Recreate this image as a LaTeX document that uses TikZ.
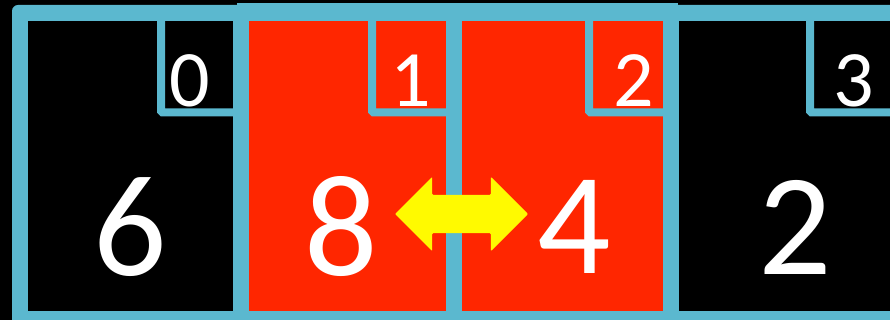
\documentclass[tikz,border=0pt]{standalone}
\usepackage{fontspec}
\setmainfont{Carlito}
\usetikzlibrary{shapes.arrows}
\definecolor{frameblue}{RGB}{91,184,207}
\definecolor{cellred}{RGB}{255,38,0}
\definecolor{swapyellow}{RGB}{255,250,0}
\tikzset{
  value/.style={text=white,font=\fontsize{145}{145}\selectfont,inner sep=0pt},
  index/.style={text=white,font=\fontsize{80}{80}\selectfont,inner sep=0pt},
  idxline/.style={draw=frameblue,line width=8pt,rounded corners=1.5pt},
}

\begin{document}
\begin{tikzpicture}[x=1pt,y=-1pt]
	\useasboundingbox (0,0) rectangle (890,320);
	\fill[black] (0,0) rectangle (890,320);
	% frame and cells
	\fill[frameblue,rounded corners=6pt] (12,5) rectangle (920,340);
	\fill[frameblue] (237,3) rectangle (678,21);
	\fill[black] (28,21) rectangle (233,311);
	\fill[cellred] (249,21) rectangle (446,311);
	\fill[cellred] (462,21) rectangle (663,311);
	\fill[black] (679,21) rectangle (920,311);
	% index boxes
	\draw[idxline] (241,112.5) -- (161,112.5) -- (161,13);
	\draw[idxline] (454,112.5) -- (372,112.5) -- (372,13);
	\draw[idxline] (671,112.5) -- (589,112.5) -- (589,13);
	\draw[idxline] (900,112.5) -- (810,112.5) -- (810,13);
	\node[index] (i0) at (190,81) {0};
	\node[index] (i1) at (411,81) {1};
	\node[index] (i2) at (634,81) {2};
	\node[index] (i3) at (854,81) {3};
	% values
	\node[value] (v0) at (130,227) {6};
	\node[value] (v1) at (341,227) {8};
	\node[value] (v2) at (574,227) {4};
	\node[value] (v3) at (795,227) {2};
	% swap
	\node[double arrow,fill=swapyellow,inner xsep=0pt,inner ysep=19pt,minimum height=133pt,minimum width=74pt,
		double arrow head extend=18pt,rounded corners=1pt] (swap) at (461.5,214) {};
\end{tikzpicture}
\end{document}
